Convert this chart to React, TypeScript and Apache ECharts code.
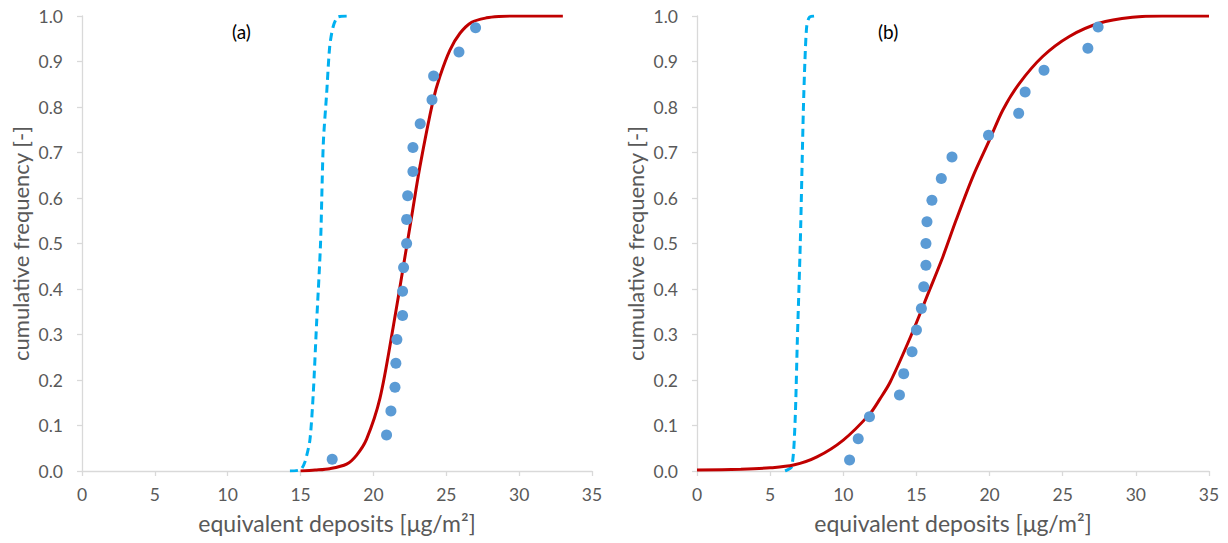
import React, { useEffect, useRef } from "react";
import * as echarts from "echarts";

// ---------- data ----------
const xTicks = [0, 5, 10, 15, 20, 25, 30, 35];

// panel (a)
const obsAx = [17.17, 20.9, 21.2, 21.48, 21.54, 21.61, 22.0, 22.0, 22.07, 22.28, 22.28, 22.35, 22.71, 22.71, 23.21, 24.02, 24.13, 25.87, 27.01];
const obsAy = [0.026, 0.079, 0.132, 0.184, 0.237, 0.289, 0.342, 0.395, 0.447, 0.5, 0.553, 0.605, 0.658, 0.711, 0.763, 0.816, 0.868, 0.921, 0.974];
const fitAx = [15, 16, 17, 18.16, 18.85, 19.53, 20.45, 21.36, 22.05, 22.62, 23.19, 24.1, 24.56, 25.25, 25.94, 26.74, 27.77, 28.6, 29.6, 33];
const fitAy = [0.0, 0.002, 0.005, 0.015, 0.035, 0.07, 0.16, 0.317, 0.449, 0.559, 0.669, 0.815, 0.867, 0.925, 0.962, 0.986, 0.996, 0.999, 1.0, 1.0];
const dashAx = [14.27, 15.0, 15.3, 15.64, 15.87, 16.1, 16.37, 16.56, 16.79, 17.0, 17.24, 17.58, 18.45];
const dashAy = [0.0, 0.003, 0.02, 0.068, 0.17, 0.325, 0.5, 0.72, 0.83, 0.933, 0.977, 0.998, 1.0];

// panel (b)
const obsBx = [10.43, 11.02, 11.79, 13.84, 14.13, 14.7, 15.0, 15.34, 15.5, 15.65, 15.65, 15.72, 16.06, 16.7, 17.43, 19.93, 21.99, 22.43, 23.72, 26.72, 27.42];
const obsBy = [0.024, 0.071, 0.119, 0.167, 0.214, 0.262, 0.31, 0.357, 0.405, 0.452, 0.5, 0.548, 0.595, 0.643, 0.69, 0.738, 0.786, 0.833, 0.881, 0.929, 0.976];
const fitBx = [0, 3, 5, 6.6, 8.2, 10, 11.8, 12.5, 13.2, 14.6, 15.9, 16.81, 17.72, 18.86, 19.99, 20.9, 22.04, 23.63, 25.45, 27.49, 29.76, 31.8, 35];
const fitBy = [0.002, 0.004, 0.007, 0.013, 0.031, 0.068, 0.125, 0.158, 0.195, 0.295, 0.398, 0.471, 0.552, 0.647, 0.727, 0.793, 0.852, 0.911, 0.955, 0.984, 0.997, 1.0, 1.0];
const dashBx = [6.02, 6.48, 6.7, 6.86, 7.06, 7.27, 7.38, 7.5, 7.68, 8.06];
const dashBy = [0.0, 0.01, 0.105, 0.288, 0.5, 0.793, 0.903, 0.977, 0.997, 1.0];

const panelLabels = ["(a)", "(b)"];
const xTitle = "equivalent deposits [μg/m²]";
const yTitle = "cumulative frequency [-]";

const zip = (xs: number[], ys: number[]) => xs.map((x, i) => [x, ys[i]]);

const FONT = "Lato, 'Open Sans', sans-serif";
const GRAY = "#595959";
const AXIS = "#d9d9d9";

export default function App() {
  const ref = useRef<HTMLDivElement>(null);
  useEffect(() => {
    if (!ref.current) return;
    const chart = echarts.init(ref.current, undefined, { renderer: "svg" });
    const grids = [
      { left: 82, top: 16, width: 510, height: 455 },
      { left: 697, top: 16, width: 512, height: 455 },
    ];
    const mkX = (i: number) => ({
      type: "value",
      gridIndex: i,
      min: xTicks[0],
      max: xTicks[xTicks.length - 1],
      interval: xTicks[1] - xTicks[0],
      name: xTitle,
      nameLocation: "middle",
      nameGap: 40,
      nameTextStyle: { color: GRAY, fontSize: 23, fontFamily: FONT },
      axisLine: { lineStyle: { color: AXIS, width: 1.3 } },
      axisTick: { show: true, length: 5, lineStyle: { color: AXIS, width: 1.3 } },
      axisLabel: { color: GRAY, fontSize: 17.5, fontFamily: FONT, margin: 14 },
      splitLine: { show: false },
    });
    const mkY = (i: number) => ({
      type: "value",
      gridIndex: i,
      min: 0,
      max: 1,
      interval: 0.1,
      name: yTitle,
      nameLocation: "middle",
      nameGap: 51,
      nameTextStyle: { color: GRAY, fontSize: 22, fontFamily: FONT },
      axisLine: { show: true, lineStyle: { color: AXIS, width: 1.3 } },
      axisTick: { show: true, length: 5, lineStyle: { color: AXIS, width: 1.3 } },
      axisLabel: {
        color: GRAY,
        fontSize: 17.5,
        fontFamily: FONT,
        margin: 19,
        formatter: (v: number) => v.toFixed(1),
      },
      splitLine: { show: false },
    });
    const dashed = (i: number, xs: number[], ys: number[]) => ({
      type: "line",
      xAxisIndex: i,
      yAxisIndex: i,
      data: zip(xs, ys),
      showSymbol: false,
      smooth: 0.25,
      lineStyle: { color: "#00b0f0", width: 3, type: [8, 5] },
      z: 2,
    });
    const fit = (i: number, xs: number[], ys: number[]) => ({
      type: "line",
      xAxisIndex: i,
      yAxisIndex: i,
      data: zip(xs, ys),
      showSymbol: false,
      smooth: 0.3,
      lineStyle: { color: "#c00000", width: 3 },
      z: 3,
    });
    const obs = (i: number, xs: number[], ys: number[]) => ({
      type: "scatter",
      xAxisIndex: i,
      yAxisIndex: i,
      data: zip(xs, ys),
      symbol: "circle",
      symbolSize: 11,
      itemStyle: { color: "#5b9bd5", opacity: 1 },
      z: 4,
    });
    chart.setOption({
      animation: false,
      backgroundColor: "#ffffff",
      grid: grids,
      xAxis: [mkX(0), mkX(1)],
      yAxis: [mkY(0), mkY(1)],
      graphic: [
        {
          type: "text",
          left: 245 - 13,
          top: 22,
          style: { text: panelLabels[0], fill: "#000000", fontSize: 19, fontFamily: FONT },
        },
        {
          type: "text",
          left: 891 - 13,
          top: 22,
          style: { text: panelLabels[1], fill: "#000000", fontSize: 19, fontFamily: FONT },
        },
      ],
      series: [
        dashed(0, dashAx, dashAy),
        fit(0, fitAx, fitAy),
        obs(0, obsAx, obsAy),
        dashed(1, dashBx, dashBy),
        fit(1, fitBx, fitBy),
        obs(1, obsBx, obsBy),
      ],
    });
    return () => chart.dispose();
  }, []);
  return (
    <div
      ref={ref}
      style={{ position: "fixed", left: 0, top: 0, width: 1228, height: 543, background: "#fff" }}
    />
  );
}
